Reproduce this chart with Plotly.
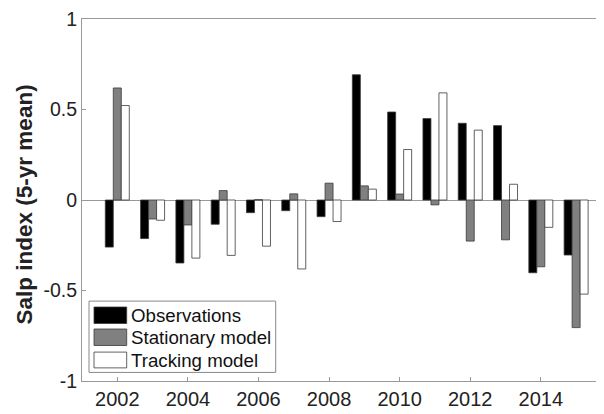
import plotly.graph_objects as go

years = list(range(2002, 2016))
observations = [-0.26, -0.213, -0.348, -0.134, -0.070, -0.059, -0.092, 0.692, 0.486, 0.450, 0.424, 0.411, -0.402, -0.304]
stationary = [0.619, -0.105, -0.138, 0.052, 0.002, 0.034, 0.093, 0.078, 0.033, -0.027, -0.227, -0.220, -0.369, -0.705]
tracking = [0.522, -0.112, -0.321, -0.306, -0.255, -0.381, -0.119, 0.060, 0.279, 0.592, 0.386, 0.087, -0.151, -0.520]
series_names = ["Observations", "Stationary model", "Tracking model"]
series_colors = ["#000000", "#808080", "#ffffff"]
x_ticks = [2002, 2004, 2006, 2008, 2010, 2012, 2014]
y_ticks = [-1, -0.5, 0, 0.5, 1]
y_ticktext = ["-1", "-0.5", "0", "0.5", "1"]
y_title = "Salp index (5-yr mean)"

# page body has an 8px margin; figure sized to fill the rest of the window
OFF = 8
W, H = 596, 406
ML, MR, MT, MB = 74, 0, 6, 33
PW, PH = W - ML - MR, H - MT - MB

fig = go.Figure()
for name, vals, col in zip(series_names, [observations, stationary, tracking], series_colors):
    fig.add_trace(go.Bar(x=years, y=vals, name=name, showlegend=False,
                         marker=dict(color=col, line=dict(color="#3a3a3a", width=0.8))))

FONT = "Liberation Sans, Arial, Helvetica, sans-serif"

def px(x):
    return (x - OFF - ML) / PW

def py(y):
    return (H - MB - (y - OFF)) / PH

# legend (decoration built in paper coordinates)
shapes = [dict(type="rect", xref="paper", yref="paper", x0=px(89), x1=px(275.7), y0=py(372.3), y1=py(300),
               line=dict(color="#888888", width=1), fillcolor="white", layer="above")]
annotations = []
sw = [(306, 322.7), (328.3, 345), (351.7, 367.7)]
for (t, b), name, col in zip(sw, series_names, series_colors):
    shapes.append(dict(type="rect", xref="paper", yref="paper", x0=px(94), x1=px(126.7), y0=py(b), y1=py(t),
                       line=dict(color="#3a3a3a", width=0.8), fillcolor=col, layer="above"))
    annotations.append(dict(xref="paper", yref="paper", x=px(128.5), y=py((t + b) / 2 + 0.5), text=name,
                            showarrow=False, xanchor="left", yanchor="middle",
                            font=dict(family=FONT, size=18.7, color="#111111")))

annotations.append(dict(xref="paper", yref="paper", x=px(24), y=py(202), text="<b>" + y_title + "</b>",
                        textangle=-90, showarrow=False, xanchor="center", yanchor="middle",
                        font=dict(family=FONT, size=22.5, color="#222222")))

fig.update_layout(
    width=W, height=H, margin=dict(l=ML, r=MR, t=MT, b=MB),
    paper_bgcolor="white", plot_bgcolor="white",
    barmode="group", bargap=0.32, bargroupgap=0,
    font=dict(family=FONT, size=19.5, color="#222222"),
    shapes=shapes, annotations=annotations,
    xaxis=dict(range=[2001, 2015.79], tickvals=x_ticks, ticks="inside", ticklen=4, tickcolor="#999999",
               showline=True, linecolor="#999999", linewidth=1, mirror=True, showgrid=False, zeroline=False,
               tickfont=dict(size=20), ticklabeloverflow="allow"),
    yaxis=dict(range=[-1, 1], tickvals=y_ticks, ticktext=y_ticktext,
               ticks="inside", ticklen=4, tickcolor="#999999",
               showline=True, linecolor="#999999", linewidth=1, showgrid=False,
               zeroline=True, zerolinecolor="#999999", zerolinewidth=1,
               tickfont=dict(size=19.5), ticklabeloverflow="allow"),
)

fig.write_html("out.html")
